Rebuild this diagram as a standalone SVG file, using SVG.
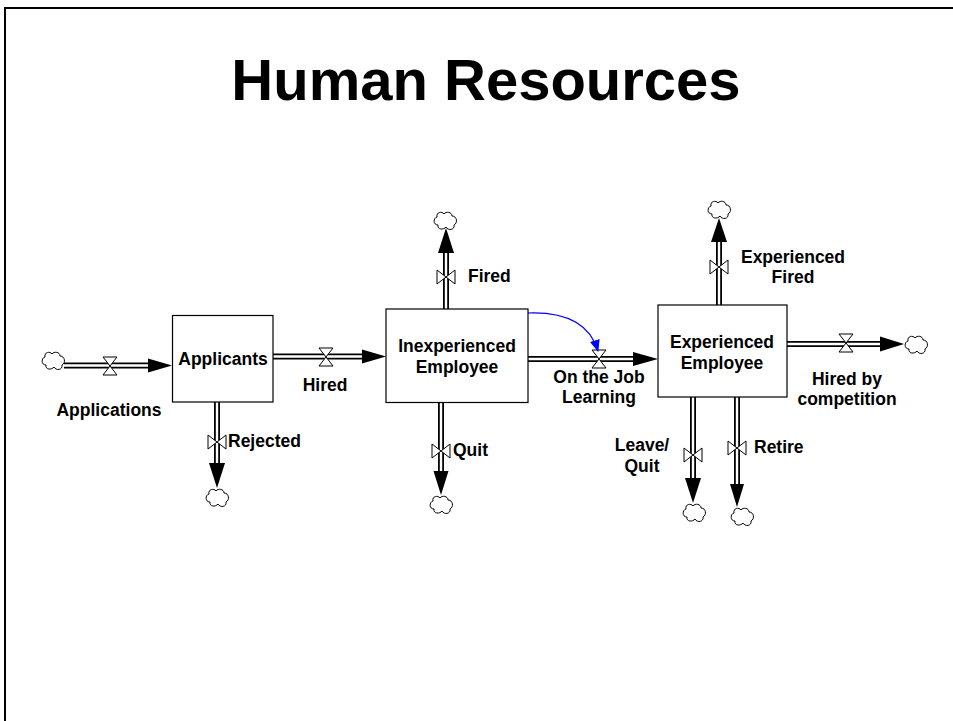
<svg xmlns="http://www.w3.org/2000/svg" width="953" height="721" viewBox="0 0 953 721">
<style>
text{font-family:"Liberation Sans",Arial,sans-serif;font-weight:bold;fill:#000}
.lbl{font-size:17.5px}
.title{font-size:58px}
.box{fill:#fff;stroke:#000;stroke-width:1.2}
.pipeo{stroke:#000;stroke-width:6;fill:none}
.pipei{stroke:#fff;stroke-width:2.4;fill:none}
.valve{fill:#fff;stroke:#000;stroke-width:1}
.cloud{fill:#fff;stroke:#000;stroke-width:1}
.head{fill:#000}
.mid{text-anchor:middle}
</style>
<defs>
<path id="hv" class="valve" d="M-7,-9 H7 L-7,9 H7 Z"/>
<path id="vv" class="valve" d="M-9,-7 V7 L9,-7 V7 Z"/>
<path id="cl" class="cloud" d="M4,6 C3,1 9,0 11,3 C13,0 19,1 19,5 C24,5 25,12 21,14 C22,19 15,20 13,16 C11,19 4,19 5,14 C0,14 0,7 4,6 Z"/>
<marker id="blueArrow" markerWidth="12" markerHeight="10" refX="11" refY="5" orient="auto" markerUnits="userSpaceOnUse">
<path d="M0,0 L12,5 L0,10 Z" fill="#0000ff"/>
</marker>
</defs>
<rect width="953" height="721" fill="#fff"/>
<path d="M5,721 V8 H953" fill="none" stroke="#000" stroke-width="2"/>
<text class="title mid" x="486" y="100">Human Resources</text>

<g id="connectors">
<g id="flow-applications">
<use href="#cl" x="41" y="351"/>
<path class="pipeo" d="M64,365.5 H150"/><path class="pipei" d="M64,365.5 H150"/>
<polygon class="head" points="148,358.5 172,365.5 148,372.5"/>
<use href="#hv" x="110" y="366"/>
<text class="lbl mid" x="109" y="416">Applications</text>
</g>
<g id="flow-hired">
<path class="pipeo" d="M273,356.5 H364"/><path class="pipei" d="M273,356.5 H364"/>
<polygon class="head" points="362,349.5 386,356.5 362,363.5"/>
<use href="#hv" x="326" y="357"/>
<text class="lbl mid" x="325" y="391">Hired</text>
</g>
<g id="flow-rejected">
<path class="pipeo" d="M217,402 V465"/><path class="pipei" d="M217,402 V465"/>
<polygon class="head" points="209,463 217,488 225,463"/>
<use href="#cl" x="205" y="488"/>
<use href="#vv" x="217" y="442"/>
<text class="lbl" x="228" y="447">Rejected</text>
</g>
<g id="flow-fired">
<path class="pipeo" d="M446,309 V251"/><path class="pipei" d="M446,309 V251"/>
<polygon class="head" points="438,253 446,228 454,253"/>
<use href="#cl" x="433" y="211"/>
<use href="#vv" x="446" y="277"/>
<text class="lbl" x="468" y="282">Fired</text>
</g>
<g id="flow-quit">
<path class="pipeo" d="M441,403 V473"/><path class="pipei" d="M441,403 V473"/>
<polygon class="head" points="433.5,471 441,495 448.5,471"/>
<use href="#cl" x="429" y="495"/>
<use href="#vv" x="441" y="451"/>
<text class="lbl" x="453" y="456">Quit</text>
</g>
<g id="flow-ojl">
<path class="pipeo" d="M528,359 H635"/><path class="pipei" d="M528,359 H635"/>
<polygon class="head" points="633,352 658,359 633,366"/>
<use href="#hv" x="599" y="359"/>
<text class="lbl mid" x="599" y="383">On the Job</text>
<text class="lbl mid" x="599" y="403">Learning</text>
</g>
<g id="link-ojl">
<path d="M528,313 Q586,311 598,351" fill="none" stroke="#0000ff" stroke-width="1.2" marker-end="url(#blueArrow)"/>
</g>
<g id="flow-expfired">
<path class="pipeo" d="M719,305 V240"/><path class="pipei" d="M719,305 V240"/>
<polygon class="head" points="711,242 719,218 727,242"/>
<use href="#cl" x="707" y="200"/>
<use href="#vv" x="719" y="267"/>
<text class="lbl mid" x="793" y="263">Experienced</text>
<text class="lbl mid" x="793" y="283">Fired</text>
</g>
<g id="flow-competition">
<path class="pipeo" d="M787,344 H882"/><path class="pipei" d="M787,344 H882"/>
<polygon class="head" points="880,336.5 904,344 880,351.5"/>
<use href="#hv" x="846" y="343"/>
<use href="#cl" x="904" y="335"/>
<text class="lbl mid" x="847" y="385">Hired by</text>
<text class="lbl mid" x="847" y="405">competition</text>
</g>
<g id="flow-leave">
<path class="pipeo" d="M693,397 V480"/><path class="pipei" d="M693,397 V480"/>
<polygon class="head" points="685,478 693,503 701,478"/>
<use href="#cl" x="682" y="503"/>
<use href="#vv" x="693" y="455"/>
<text class="lbl mid" x="642" y="451">Leave/</text>
<text class="lbl mid" x="642" y="472">Quit</text>
</g>
<g id="flow-retire">
<path class="pipeo" d="M737,397 V486"/><path class="pipei" d="M737,397 V486"/>
<polygon class="head" points="730,484 737,507 744,484"/>
<use href="#cl" x="730" y="507"/>
<use href="#vv" x="737" y="448"/>
<text class="lbl" x="754" y="453">Retire</text>
</g>
</g>

<g id="applicants">
<rect class="box" x="172.5" y="315.5" width="100.5" height="86.5"/>
<text class="lbl mid" x="223" y="365">Applicants</text>
</g>
<g id="inexperienced">
<rect class="box" x="386" y="309" width="142" height="93.5"/>
<text class="lbl mid" x="457" y="352">Inexperienced</text>
<text class="lbl mid" x="457" y="373">Employee</text>
</g>
<g id="experienced">
<rect class="box" x="658" y="305" width="129" height="92"/>
<text class="lbl mid" x="722" y="348">Experienced</text>
<text class="lbl mid" x="722" y="369">Employee</text>
</g>
</svg>
